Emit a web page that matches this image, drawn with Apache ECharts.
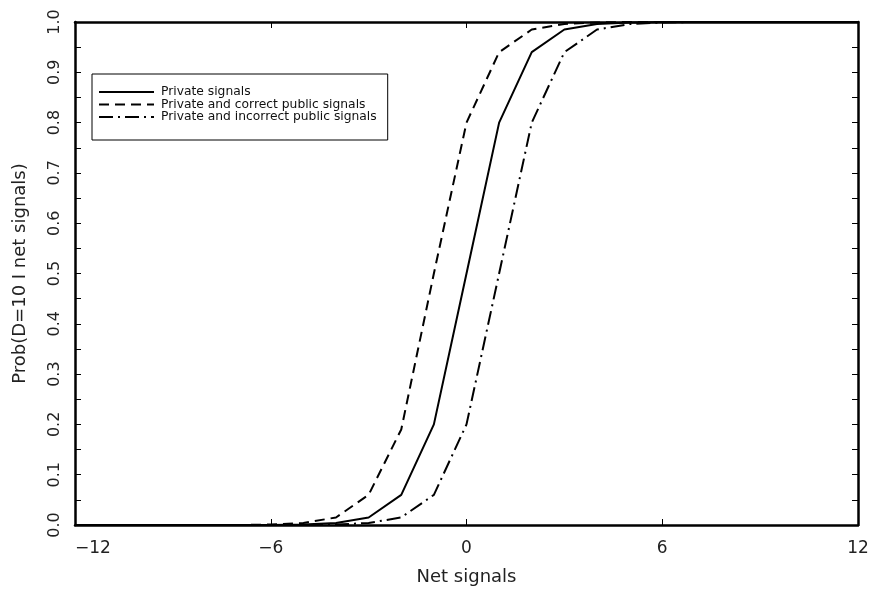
<!DOCTYPE html>
<html>
<head>
<meta charset="utf-8">
<script src="https://cdn.jsdelivr.net/npm/echarts@6/dist/echarts.min.js"></script>
<style>
  html, body { margin: 0; padding: 0; background: #fff; }
  #chart { width: 873px; height: 593px; }
</style>
</head>
<body>
<div id="chart"></div>
<script>
// Net signal counts on the horizontal axis
const netSignals = [-12, -11, -10, -9, -8, -7, -6, -5, -4, -3, -2, -1, 0, 1, 2, 3, 4, 5, 6, 7, 8, 9, 10, 11, 12];

// Probability that D = 10 given the net signals
const privateOnly = [0, 0, 0, 0, 0, 0, 0, 0.001, 0.004, 0.015, 0.06, 0.2, 0.5, 0.8, 0.94, 0.985, 0.996, 0.999, 1, 1, 1, 1, 1, 1, 1];
const withCorrectPublic = [0, 0, 0, 0, 0, 0, 0.001, 0.004, 0.015, 0.06, 0.19, 0.5, 0.8, 0.94, 0.985, 0.996, 0.999, 1, 1, 1, 1, 1, 1, 1, 1];
const withIncorrectPublic = [0, 0, 0, 0, 0, 0, 0, 0, 0.001, 0.004, 0.015, 0.06, 0.2, 0.5, 0.8, 0.94, 0.985, 0.996, 0.999, 1, 1, 1, 1, 1, 1];

const seriesNames = [
  'Private signals',
  'Private and correct public signals',
  'Private and incorrect public signals'
];

const xTicks = { min: -12, max: 12, interval: 6 };
const yTicks = { min: 0, max: 1, interval: 0.1 };

const pair = (ys) => netSignals.map((x, i) => [x, ys[i]]);

const font = 'DejaVu Sans';
const ink = '#000';
const textInk = '#222';

const chart = echarts.init(document.getElementById('chart'), null, { renderer: 'canvas' });

const frameLine = { show: true, onZero: false, lineStyle: { color: ink, width: 2.5 } };
const inTick = { show: true, inside: true, length: 6, lineStyle: { color: ink, width: 1 } };
const inMinor = { show: true, splitNumber: 2, length: 6, lineStyle: { color: ink, width: 1 } };

chart.setOption({
  animation: false,
  backgroundColor: '#fff',
  grid: { left: 75, right: 15, top: 22, bottom: 68, containLabel: false },
  legend: {
    orient: 'vertical',
    left: 92,
    top: 74,
    padding: [12, 11, 17, 6],
    itemGap: 0.5,
    itemWidth: 55,
    itemHeight: 10,
    borderColor: ink,
    borderWidth: 1,
    backgroundColor: '#fff',
    itemStyle: { opacity: 0 },
    lineStyle: { width: 2 },
    textStyle: { fontFamily: font, fontSize: 12.3, color: '#111', lineHeight: 12, padding: [0, 0, 0, 2] },
    data: seriesNames
  },
  xAxis: [
    {
      type: 'value',
      position: 'bottom',
      min: xTicks.min, max: xTicks.max, interval: xTicks.interval,
      name: 'Net signals',
      nameLocation: 'middle',
      nameGap: 43,
      nameTextStyle: { fontFamily: font, fontSize: 18, color: textInk },
      axisLine: frameLine,
      axisTick: inTick,
      splitLine: { show: false },
      axisLabel: {
        fontFamily: font, fontSize: 17, color: textInk, margin: 15,
        alignMinLabel: 'left',
        formatter: v => (v < 0 ? '\u2212' + Math.abs(v) : String(v))
      }
    },
    {
      type: 'value',
      position: 'top',
      min: xTicks.min, max: xTicks.max, interval: xTicks.interval,
      axisLine: frameLine,
      axisTick: inTick,
      splitLine: { show: false },
      axisLabel: { show: false }
    }
  ],
  yAxis: [
    {
      type: 'value',
      position: 'left',
      min: yTicks.min, max: yTicks.max, interval: yTicks.interval,
      name: 'Prob(D=10 I net signals)',
      nameLocation: 'middle',
      nameGap: 46,
      nameTextStyle: { fontFamily: font, fontSize: 18, color: textInk },
      axisLine: frameLine,
      axisTick: inTick,
      minorTick: inMinor,
      splitLine: { show: false },
      minorSplitLine: { show: false },
      axisLabel: {
        fontFamily: font, fontSize: 16, color: textInk, margin: 12, rotate: 90,
        formatter: v => v.toFixed(1)
      }
    },
    {
      type: 'value',
      position: 'right',
      min: yTicks.min, max: yTicks.max, interval: yTicks.interval,
      axisLine: frameLine,
      axisTick: inTick,
      minorTick: inMinor,
      splitLine: { show: false },
      minorSplitLine: { show: false },
      axisLabel: { show: false }
    }
  ],
  series: [
    {
      name: seriesNames[0],
      type: 'line',
      data: pair(privateOnly),
      symbol: 'none',
      lineStyle: { color: ink, width: 2, type: 'solid' },
      itemStyle: { color: ink }
    },
    {
      name: seriesNames[1],
      type: 'line',
      data: pair(withCorrectPublic),
      symbol: 'none',
      lineStyle: { color: ink, width: 2, type: [10, 6] },
      itemStyle: { color: ink }
    },
    {
      name: seriesNames[2],
      type: 'line',
      data: pair(withIncorrectPublic),
      symbol: 'none',
      lineStyle: { color: ink, width: 2, type: [14, 5, 2, 5] },
      itemStyle: { color: ink }
    }
  ]
});
</script>
</body>
</html>
